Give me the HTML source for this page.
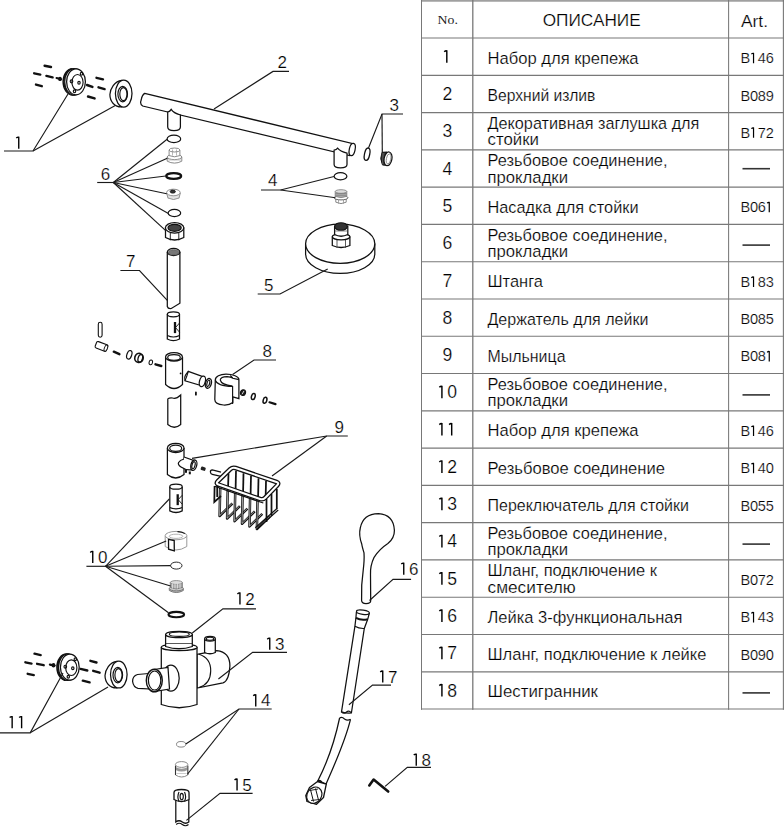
<!DOCTYPE html>
<html><head><meta charset="utf-8"><style>
html,body{margin:0;padding:0;background:#fff;}
body{width:784px;height:827px;overflow:hidden;position:relative;font-family:"Liberation Sans",sans-serif;}
svg{position:absolute;left:0;top:0;}
svg text{font-family:"Liberation Sans",sans-serif;fill:#000;stroke:#fff;stroke-width:0.22px;paint-order:fill;}
svg text.serif{font-family:"Liberation Serif",serif;stroke:none;fill:#222;}
svg text.lab{fill:#000;}
</style></head><body>
<svg width="784" height="827" viewBox="0 0 784 827">
<g id="table">
<line x1="421" y1="0.9" x2="784" y2="0.9" stroke="#a0a0a0" stroke-width="1.8"/>
<line x1="421" y1="38.0" x2="784" y2="38.0" stroke="#787878" stroke-width="1.15"/>
<line x1="421" y1="75.3" x2="784" y2="75.3" stroke="#787878" stroke-width="1.15"/>
<line x1="421" y1="112.6" x2="784" y2="112.6" stroke="#787878" stroke-width="1.15"/>
<line x1="421" y1="149.8" x2="784" y2="149.8" stroke="#787878" stroke-width="1.15"/>
<line x1="421" y1="187.1" x2="784" y2="187.1" stroke="#787878" stroke-width="1.15"/>
<line x1="421" y1="224.4" x2="784" y2="224.4" stroke="#787878" stroke-width="1.15"/>
<line x1="421" y1="261.7" x2="784" y2="261.7" stroke="#787878" stroke-width="1.15"/>
<line x1="421" y1="299.0" x2="784" y2="299.0" stroke="#787878" stroke-width="1.15"/>
<line x1="421" y1="336.2" x2="784" y2="336.2" stroke="#787878" stroke-width="1.15"/>
<line x1="421" y1="373.5" x2="784" y2="373.5" stroke="#787878" stroke-width="1.15"/>
<line x1="421" y1="410.8" x2="784" y2="410.8" stroke="#787878" stroke-width="1.15"/>
<line x1="421" y1="448.1" x2="784" y2="448.1" stroke="#787878" stroke-width="1.15"/>
<line x1="421" y1="485.4" x2="784" y2="485.4" stroke="#787878" stroke-width="1.15"/>
<line x1="421" y1="522.6" x2="784" y2="522.6" stroke="#787878" stroke-width="1.15"/>
<line x1="421" y1="559.9" x2="784" y2="559.9" stroke="#787878" stroke-width="1.15"/>
<line x1="421" y1="597.2" x2="784" y2="597.2" stroke="#787878" stroke-width="1.15"/>
<line x1="421" y1="634.5" x2="784" y2="634.5" stroke="#787878" stroke-width="1.15"/>
<line x1="421" y1="671.8" x2="784" y2="671.8" stroke="#787878" stroke-width="1.15"/>
<line x1="421" y1="709.0" x2="784" y2="709.0" stroke="#787878" stroke-width="1.15"/>
<line x1="421.5" y1="0" x2="421.5" y2="709.8" stroke="#787878" stroke-width="1.0"/>
<line x1="472.8" y1="0" x2="472.8" y2="709.8" stroke="#787878" stroke-width="1.3"/>
<line x1="728.6" y1="0" x2="728.6" y2="709.8" stroke="#787878" stroke-width="1.05"/>
<line x1="783.4" y1="0" x2="783.4" y2="709.8" stroke="#787878" stroke-width="1.1"/>
<text class="serif" x="437.6" y="24.2" font-size="13.2" textLength="20.3" lengthAdjust="spacingAndGlyphs">No.</text>
<text x="542.7" y="26.1" font-size="16.8" textLength="98" lengthAdjust="spacingAndGlyphs">ОПИСАНИЕ</text>
<text x="741" y="26.7" font-size="17" textLength="27" lengthAdjust="spacingAndGlyphs">Art.</text>
<path d="M444.22,51.83 Q445.57,50.48 446.81,50.83 L446.81,62.80" stroke="#000" stroke-width="1.44" fill="none" stroke-linecap="butt"/>
<text x="487.5" y="63.6" font-size="16.6" textLength="151.0" lengthAdjust="spacingAndGlyphs">Набор для крепежа</text>
<text x="740.5" y="63.2" font-size="14.6">B</text>
<path d="M751.39,54.10 Q752.51,52.98 753.54,53.33 L753.54,63.20" stroke="#000" stroke-width="1.20" fill="none" stroke-linecap="butt"/>
<text x="757.86" y="63.2" font-size="14.6">4</text>
<text x="765.72" y="63.2" font-size="14.6">6</text>
<text x="442.41" y="100.1" font-size="17.6">2</text>
<text x="487.5" y="100.9" font-size="16.6" textLength="107.9" lengthAdjust="spacingAndGlyphs">Верхний излив</text>
<text x="740.5" y="100.5" font-size="14.6">B</text>
<text x="750.00" y="100.5" font-size="14.6">0</text>
<text x="757.86" y="100.5" font-size="14.6">8</text>
<text x="765.72" y="100.5" font-size="14.6">9</text>
<text x="442.41" y="137.4" font-size="17.6">3</text>
<text x="487.5" y="128.8" font-size="16.6" textLength="211.9" lengthAdjust="spacingAndGlyphs">Декоративная заглушка для</text>
<text x="487.5" y="145.4" font-size="16.6" textLength="51.5" lengthAdjust="spacingAndGlyphs">стойки</text>
<text x="740.5" y="137.8" font-size="14.6">B</text>
<path d="M751.39,128.70 Q752.51,127.58 753.54,127.93 L753.54,137.80" stroke="#000" stroke-width="1.20" fill="none" stroke-linecap="butt"/>
<text x="757.86" y="137.8" font-size="14.6">7</text>
<text x="765.72" y="137.8" font-size="14.6">2</text>
<text x="442.41" y="174.6" font-size="17.6">4</text>
<text x="487.5" y="166.0" font-size="16.6" textLength="180.0" lengthAdjust="spacingAndGlyphs">Резьбовое соединение,</text>
<text x="487.5" y="182.6" font-size="16.6" textLength="80.5" lengthAdjust="spacingAndGlyphs">прокладки</text>
<line x1="742.5" y1="168.7" x2="770" y2="168.7" stroke="#333" stroke-width="1.6"/>
<text x="442.41" y="211.9" font-size="17.6">5</text>
<text x="487.5" y="212.7" font-size="16.6" textLength="151.0" lengthAdjust="spacingAndGlyphs">Насадка для стойки</text>
<text x="740.5" y="212.3" font-size="14.6">B</text>
<text x="750.00" y="212.3" font-size="14.6">0</text>
<text x="757.86" y="212.3" font-size="14.6">6</text>
<path d="M767.11,203.20 Q768.23,202.08 769.26,202.43 L769.26,212.30" stroke="#000" stroke-width="1.20" fill="none" stroke-linecap="butt"/>
<text x="442.41" y="249.2" font-size="17.6">6</text>
<text x="487.5" y="240.6" font-size="16.6" textLength="180.0" lengthAdjust="spacingAndGlyphs">Резьбовое соединение,</text>
<text x="487.5" y="257.2" font-size="16.6" textLength="80.5" lengthAdjust="spacingAndGlyphs">прокладки</text>
<line x1="742.5" y1="245.1" x2="770" y2="245.1" stroke="#333" stroke-width="1.6"/>
<text x="442.41" y="286.5" font-size="17.6">7</text>
<text x="487.5" y="287.3" font-size="16.6" textLength="55.5" lengthAdjust="spacingAndGlyphs">Штанга</text>
<text x="740.5" y="286.9" font-size="14.6">B</text>
<path d="M751.39,277.80 Q752.51,276.68 753.54,277.03 L753.54,286.90" stroke="#000" stroke-width="1.20" fill="none" stroke-linecap="butt"/>
<text x="757.86" y="286.9" font-size="14.6">8</text>
<text x="765.72" y="286.9" font-size="14.6">3</text>
<text x="442.41" y="323.8" font-size="17.6">8</text>
<text x="487.5" y="324.6" font-size="16.6" textLength="160.9" lengthAdjust="spacingAndGlyphs">Держатель для лейки</text>
<text x="740.5" y="324.2" font-size="14.6">B</text>
<text x="750.00" y="324.2" font-size="14.6">0</text>
<text x="757.86" y="324.2" font-size="14.6">8</text>
<text x="765.72" y="324.2" font-size="14.6">5</text>
<text x="442.41" y="361.0" font-size="17.6">9</text>
<text x="487.5" y="361.8" font-size="16.6" textLength="78.0" lengthAdjust="spacingAndGlyphs">Мыльница</text>
<text x="740.5" y="361.4" font-size="14.6">B</text>
<text x="750.00" y="361.4" font-size="14.6">0</text>
<text x="757.86" y="361.4" font-size="14.6">8</text>
<path d="M767.11,352.30 Q768.23,351.18 769.26,351.53 L769.26,361.40" stroke="#000" stroke-width="1.20" fill="none" stroke-linecap="butt"/>
<path d="M439.33,387.33 Q440.68,385.98 441.92,386.33 L441.92,398.30" stroke="#000" stroke-width="1.44" fill="none" stroke-linecap="butt"/>
<text x="447.30" y="398.3" font-size="17.6">0</text>
<text x="487.5" y="389.7" font-size="16.6" textLength="180.0" lengthAdjust="spacingAndGlyphs">Резьбовое соединение,</text>
<text x="487.5" y="406.3" font-size="16.6" textLength="80.5" lengthAdjust="spacingAndGlyphs">прокладки</text>
<line x1="742.5" y1="394.9" x2="770" y2="394.9" stroke="#333" stroke-width="1.6"/>
<path d="M439.33,424.63 Q440.68,423.28 441.92,423.63 L441.92,435.60" stroke="#000" stroke-width="1.44" fill="none" stroke-linecap="butt"/>
<path d="M449.12,424.63 Q450.46,423.28 451.70,423.63 L451.70,435.60" stroke="#000" stroke-width="1.44" fill="none" stroke-linecap="butt"/>
<text x="487.5" y="436.4" font-size="16.6" textLength="151.0" lengthAdjust="spacingAndGlyphs">Набор для крепежа</text>
<text x="740.5" y="436.0" font-size="14.6">B</text>
<path d="M751.39,426.90 Q752.51,425.78 753.54,426.13 L753.54,436.00" stroke="#000" stroke-width="1.20" fill="none" stroke-linecap="butt"/>
<text x="757.86" y="436.0" font-size="14.6">4</text>
<text x="765.72" y="436.0" font-size="14.6">6</text>
<path d="M439.33,461.93 Q440.68,460.58 441.92,460.93 L441.92,472.90" stroke="#000" stroke-width="1.44" fill="none" stroke-linecap="butt"/>
<text x="447.30" y="472.9" font-size="17.6">2</text>
<text x="487.5" y="473.7" font-size="16.6" textLength="177.5" lengthAdjust="spacingAndGlyphs">Резьбовое соединение</text>
<text x="740.5" y="473.3" font-size="14.6">B</text>
<path d="M751.39,464.20 Q752.51,463.08 753.54,463.43 L753.54,473.30" stroke="#000" stroke-width="1.20" fill="none" stroke-linecap="butt"/>
<text x="757.86" y="473.3" font-size="14.6">4</text>
<text x="765.72" y="473.3" font-size="14.6">0</text>
<path d="M439.33,499.23 Q440.68,497.88 441.92,498.23 L441.92,510.20" stroke="#000" stroke-width="1.44" fill="none" stroke-linecap="butt"/>
<text x="447.30" y="510.2" font-size="17.6">3</text>
<text x="487.5" y="511.0" font-size="16.6" textLength="201.4" lengthAdjust="spacingAndGlyphs">Переключатель для стойки</text>
<text x="740.5" y="510.6" font-size="14.6">B</text>
<text x="750.00" y="510.6" font-size="14.6">0</text>
<text x="757.86" y="510.6" font-size="14.6">5</text>
<text x="765.72" y="510.6" font-size="14.6">5</text>
<path d="M439.33,536.43 Q440.68,535.08 441.92,535.43 L441.92,547.40" stroke="#000" stroke-width="1.44" fill="none" stroke-linecap="butt"/>
<text x="447.30" y="547.4" font-size="17.6">4</text>
<text x="487.5" y="538.8" font-size="16.6" textLength="180.0" lengthAdjust="spacingAndGlyphs">Резьбовое соединение,</text>
<text x="487.5" y="555.4" font-size="16.6" textLength="80.5" lengthAdjust="spacingAndGlyphs">прокладки</text>
<line x1="742.5" y1="544.1" x2="770" y2="544.1" stroke="#333" stroke-width="1.6"/>
<path d="M439.33,573.73 Q440.68,572.38 441.92,572.73 L441.92,584.70" stroke="#000" stroke-width="1.44" fill="none" stroke-linecap="butt"/>
<text x="447.30" y="584.7" font-size="17.6">5</text>
<text x="487.5" y="576.1" font-size="16.6" textLength="169.5" lengthAdjust="spacingAndGlyphs">Шланг, подключение к</text>
<text x="487.5" y="592.7" font-size="16.6" textLength="88.2" lengthAdjust="spacingAndGlyphs">смесителю</text>
<text x="740.5" y="585.1" font-size="14.6">B</text>
<text x="750.00" y="585.1" font-size="14.6">0</text>
<text x="757.86" y="585.1" font-size="14.6">7</text>
<text x="765.72" y="585.1" font-size="14.6">2</text>
<path d="M439.33,611.03 Q440.68,609.68 441.92,610.03 L441.92,622.00" stroke="#000" stroke-width="1.44" fill="none" stroke-linecap="butt"/>
<text x="447.30" y="622.0" font-size="17.6">6</text>
<text x="487.5" y="622.8" font-size="16.6" textLength="195.0" lengthAdjust="spacingAndGlyphs">Лейка 3-функциональная</text>
<text x="740.5" y="622.4" font-size="14.6">B</text>
<path d="M751.39,613.30 Q752.51,612.18 753.54,612.53 L753.54,622.40" stroke="#000" stroke-width="1.20" fill="none" stroke-linecap="butt"/>
<text x="757.86" y="622.4" font-size="14.6">4</text>
<text x="765.72" y="622.4" font-size="14.6">3</text>
<path d="M439.33,648.33 Q440.68,646.98 441.92,647.33 L441.92,659.30" stroke="#000" stroke-width="1.44" fill="none" stroke-linecap="butt"/>
<text x="447.30" y="659.3" font-size="17.6">7</text>
<text x="487.5" y="660.1" font-size="16.6" textLength="218.9" lengthAdjust="spacingAndGlyphs">Шланг, подключение к лейке</text>
<text x="740.5" y="659.7" font-size="14.6">B</text>
<text x="750.00" y="659.7" font-size="14.6">0</text>
<text x="757.86" y="659.7" font-size="14.6">9</text>
<text x="765.72" y="659.7" font-size="14.6">0</text>
<path d="M439.33,685.63 Q440.68,684.28 441.92,684.63 L441.92,696.60" stroke="#000" stroke-width="1.44" fill="none" stroke-linecap="butt"/>
<text x="447.30" y="696.6" font-size="17.6">8</text>
<text x="487.5" y="697.4" font-size="16.6" textLength="110.5" lengthAdjust="spacingAndGlyphs">Шестигранник</text>
<line x1="742.5" y1="692.9" x2="770" y2="692.9" stroke="#333" stroke-width="1.6"/>
</g>
<g id="diagram">
<line x1="44.6" y1="65.8" x2="51" y2="67" stroke="#111" stroke-width="2.4" stroke-linecap="round"/>
<line x1="34.2" y1="73.3" x2="40.3" y2="74.6" stroke="#111" stroke-width="2.4" stroke-linecap="round"/>
<line x1="46.4" y1="75.9" x2="52.6" y2="77.4" stroke="#111" stroke-width="2.4" stroke-linecap="round"/>
<line x1="36" y1="84.6" x2="41.8" y2="86.2" stroke="#111" stroke-width="2.4" stroke-linecap="round"/>
<line x1="96.5" y1="77.8" x2="103" y2="79.3" stroke="#111" stroke-width="2.4" stroke-linecap="round"/>
<line x1="87" y1="85" x2="92.4" y2="86.9" stroke="#111" stroke-width="2.4" stroke-linecap="round"/>
<line x1="98.5" y1="87.3" x2="104.6" y2="89.1" stroke="#111" stroke-width="2.4" stroke-linecap="round"/>
<line x1="88" y1="96.5" x2="94.6" y2="98.4" stroke="#111" stroke-width="2.4" stroke-linecap="round"/>
<line x1="56.6" y1="78" x2="61" y2="79.2" stroke="#111" stroke-width="2.2" stroke-linecap="round"/>
<ellipse cx="60" cy="78.9" rx="1.8" ry="2.2" fill="#111"/>
<ellipse cx="72.7" cy="81.8" rx="9.6" ry="13.2" stroke="#111" stroke-width="1.4" fill="#fff"/>
<ellipse cx="73.5" cy="81.8" rx="9.6" ry="13.2" stroke="#111" stroke-width="1.2" fill="#fff"/>
<ellipse cx="74.3" cy="81.8" rx="9.6" ry="13.2" stroke="#111" stroke-width="1.2" fill="#fff"/>
<ellipse cx="76.0" cy="81.8" rx="9.4" ry="13" stroke="#111" stroke-width="1.25" fill="#fff"/>
<ellipse cx="77.5" cy="82.3" rx="5.6" ry="7.8" stroke="#111" stroke-width="1.15" fill="none"/>
<ellipse cx="79.0" cy="82.8" rx="1.2" ry="1.4" stroke="#111" stroke-width="1.15" fill="none"/>
<ellipse cx="71.5" cy="81.3" rx="1.3" ry="1.5" stroke="#111" stroke-width="1.15" fill="none"/>
<ellipse cx="81.5" cy="73.8" rx="1.2" ry="1.4" stroke="#111" stroke-width="1.15" fill="none"/>
<ellipse cx="74.5" cy="91.3" rx="1.2" ry="1.4" stroke="#111" stroke-width="1.15" fill="none"/>
<path d="M121.7,80.3 C114.7,80.6 109.9,89.6 109.9,94.6 C109.9,101.6 114.7,107.1 121.7,106.89999999999999 Z" stroke="#111" stroke-width="1.25" fill="#fff"/>
<ellipse cx="123.7" cy="93.6" rx="8.3" ry="13.4" stroke="#111" stroke-width="1.25" fill="#fff"/>
<ellipse cx="122.7" cy="94.1" rx="4.8" ry="7.7" stroke="#111" stroke-width="1.15" fill="none"/>
<ellipse cx="123.4" cy="94.1" rx="3.6" ry="6.5" stroke="#111" stroke-width="1.15" fill="none"/>
<path d="M16.25,138.10 Q17.55,136.80 18.75,137.15 L18.75,148.70" stroke="#000" stroke-width="1.39" fill="none" stroke-linecap="butt"/>
<polyline points="4,151 33,151 68,94" stroke="#1a1a1a" stroke-width="1.15" fill="none"/>
<line x1="33" y1="151" x2="115.3" y2="105.5" stroke="#1a1a1a" stroke-width="1.15" fill="none"/>
<path d="M144.7,93.4 L352,143.4 L349.5,155.6 L142.7,106 Q139.5,104 141.2,100 Q142,95 144.7,93.4 Z" stroke="#111" stroke-width="1.25" fill="#fff"/>
<ellipse cx="352.2" cy="149.5" rx="2.9" ry="6.2" stroke="#111" stroke-width="1.25" fill="#fff" transform="rotate(12 352.2 149.5)"/>
<path d="M167.7,112.2 Q170,111.6 171.2,109.4 Q173.5,113.2 180.4,115 L180.4,127 Q180.4,130.6 174,130.6 Q167.7,130.6 167.7,127 Z" stroke="#111" stroke-width="1.25" fill="#fff"/>
<path d="M334.1,150.2 Q336.5,149.8 337.6,148.2 Q340,151.4 347,153.2 L347,164.5 Q347,167.8 340.5,167.8 Q334.1,167.8 334.1,164.5 Z" stroke="#111" stroke-width="1.25" fill="#fff"/>
<text class="lab" x="277.50" y="68" font-size="17">2</text>
<polyline points="289,71.4 273,71.4 214,109" stroke="#1a1a1a" stroke-width="1.15" fill="none"/>
<ellipse cx="367.1" cy="154.2" rx="2.6" ry="6.3" stroke="#111" stroke-width="1.3" fill="#fff" transform="rotate(12 367.1 154.2)"/>
<path d="M382,152.3 L387,152 L389,165.6 L382.5,165 Q379.3,158.5 382,152.3 Z" stroke="#111" stroke-width="1" fill="#222"/>
<line x1="382.2" y1="153" x2="382.6" y2="164.5" stroke="#888" stroke-width="0.5"/>
<line x1="383.59999999999997" y1="153" x2="384.0" y2="164.5" stroke="#888" stroke-width="0.5"/>
<line x1="385.0" y1="153" x2="385.40000000000003" y2="164.5" stroke="#888" stroke-width="0.5"/>
<ellipse cx="388" cy="158.8" rx="3.9" ry="6.9" stroke="#111" stroke-width="1.25" fill="#fff" transform="rotate(10 388 158.8)"/>
<ellipse cx="388.6" cy="158.9" rx="2.2" ry="5.0" stroke="#666" stroke-width="0.7" fill="none" transform="rotate(10 388.6 158.9)"/>
<text class="lab" x="389.50" y="111" font-size="17">3</text>
<polyline points="403,114 382,114 368.5,148" stroke="#1a1a1a" stroke-width="1.15" fill="none"/>
<line x1="382" y1="114" x2="382.3" y2="152.5" stroke="#1a1a1a" stroke-width="1.15" fill="none"/>
<ellipse cx="340.5" cy="176.2" rx="6.4" ry="3.6" stroke="#111" stroke-width="1.2" fill="#fff"/>
<path d="M335.8,199 L335.8,202.2 Q341,205 346.2,202.2 L346.2,199" stroke="#888" stroke-width="1" fill="#fff"/>
<line x1="338.5" y1="199.5" x2="338.5" y2="203.8" stroke="#999" stroke-width="0.8"/>
<line x1="343.5" y1="199.5" x2="343.5" y2="203.8" stroke="#999" stroke-width="0.8"/>
<ellipse cx="341" cy="197.8" rx="7" ry="2.1" stroke="#666" stroke-width="1" fill="#fff"/>
<path d="M335.2,191.5 L335.2,196.3 Q341,199 346.8,196.3 L346.8,191.5 Z" stroke="#888" stroke-width="0.9" fill="#a8a8a8"/>
<ellipse cx="341" cy="191.5" rx="5.8" ry="1.8" stroke="#888" stroke-width="0.9" fill="#ddd"/>
<line x1="335.5" y1="193.5" x2="346.5" y2="193.5" stroke="#777" stroke-width="0.6"/>
<line x1="335.5" y1="195.3" x2="346.5" y2="195.3" stroke="#777" stroke-width="0.6"/>
<text class="lab" x="268.00" y="186" font-size="17">4</text>
<polyline points="261,190 280.6,190 334,176.5" stroke="#1a1a1a" stroke-width="1.15" fill="none"/>
<line x1="280.6" y1="190" x2="335.5" y2="197.8" stroke="#1a1a1a" stroke-width="1.15" fill="none"/>
<path d="M305.6,243.5 L305.6,254 A34.6,19.5 0 0 0 374.8,254 L374.8,243.5" stroke="#111" stroke-width="1.25" fill="#fff"/>
<ellipse cx="340.2" cy="243.8" rx="34.6" ry="19.6" stroke="#111" stroke-width="1.25" fill="#fff"/>
<path d="M332.3,237 L332.3,245.5 Q341,249.5 349.9,245.5 L349.9,237 Z" stroke="#111" stroke-width="1.25" fill="#fff"/>
<line x1="337" y1="239.5" x2="337" y2="247.8" stroke="#333" stroke-width="0.8"/>
<line x1="345.5" y1="239.5" x2="345.5" y2="247.8" stroke="#333" stroke-width="0.8"/>
<ellipse cx="341.1" cy="236.8" rx="8.8" ry="3" stroke="#111" stroke-width="1.25" fill="#fff"/>
<path d="M334.6,226 L334.6,234.5 Q341,238 347.8,234.5 L347.8,226 Z" stroke="#111" stroke-width="1.25" fill="#fff"/>
<ellipse cx="341" cy="226.5" rx="6.3" ry="3.8" stroke="#111" stroke-width="1.1" fill="#333"/>
<line x1="334.8" y1="231" x2="347.6" y2="231" stroke="#555" stroke-width="0.7"/>
<text class="lab" x="264.00" y="291.4" font-size="17">5</text>
<polyline points="257.7,294 280,294 327.7,269.1" stroke="#1a1a1a" stroke-width="1.15" fill="none"/>
<ellipse cx="173.9" cy="138.9" rx="6.8" ry="3.7" stroke="#111" stroke-width="1.2" fill="#fff"/>
<path d="M167.2,157 L167.2,161.2 Q174.5,165 181.8,161.2 L181.8,157" stroke="#8a8a8a" stroke-width="1" fill="#fff"/>
<ellipse cx="174.5" cy="157" rx="7.3" ry="2.6" stroke="#8a8a8a" stroke-width="1" fill="#fff"/>
<path d="M169.1,150 L169.1,155.6 Q174.5,158 179.9,155.6 L179.9,150" stroke="#8a8a8a" stroke-width="1" fill="#fff"/>
<ellipse cx="174.5" cy="150" rx="5.4" ry="2.0" stroke="#8a8a8a" stroke-width="1" fill="#fff"/>
<line x1="172.5" y1="149.5" x2="172.5" y2="155.5" stroke="#999" stroke-width="0.7"/>
<line x1="176.5" y1="149.5" x2="176.5" y2="155.5" stroke="#999" stroke-width="0.7"/>
<line x1="167.5" y1="160" x2="181.5" y2="160" stroke="#aaa" stroke-width="0.7"/>
<ellipse cx="173.7" cy="176" rx="7.4" ry="2.9" stroke="#111" stroke-width="2.4" fill="#fff"/>
<path d="M166.6,193 L168,198 Q173.5,201 179,198 L180.3,193" stroke="#8a8a8a" stroke-width="1" fill="#fff"/>
<ellipse cx="173.4" cy="192.5" rx="6.8" ry="3.3" stroke="#8a8a8a" stroke-width="1" fill="#fff"/>
<ellipse cx="172.8" cy="191.6" rx="2.6" ry="1.5" stroke="#111" stroke-width="0.9" fill="#333"/>
<line x1="167.5" y1="196" x2="179.5" y2="196" stroke="#b0b0b0" stroke-width="0.7"/>
<line x1="167.5" y1="198" x2="179.5" y2="198" stroke="#b0b0b0" stroke-width="0.7"/>
<ellipse cx="174.4" cy="213" rx="6.3" ry="3.6" stroke="#111" stroke-width="1.2" fill="#fff"/>
<path d="M165.5,228 L165.5,237.5 Q174.6,242.5 183.8,237.5 L183.8,228 Z" stroke="#111" stroke-width="1.25" fill="#fff"/>
<line x1="170.3" y1="231" x2="170.3" y2="240.3" stroke="#111" stroke-width="0.9"/>
<line x1="178.8" y1="231" x2="178.8" y2="240.3" stroke="#111" stroke-width="0.9"/>
<ellipse cx="174.6" cy="227.8" rx="9.2" ry="5.2" stroke="#111" stroke-width="1.25" fill="#fff"/>
<ellipse cx="174.6" cy="227.8" rx="6.6" ry="3.5" stroke="#111" stroke-width="1.2" fill="#444"/>
<text class="lab" x="100.80" y="179.7" font-size="17">6</text>
<line x1="97.2" y1="182.5" x2="113.3" y2="182.5" stroke="#1a1a1a" stroke-width="1.15" fill="none"/>
<line x1="113.3" y1="182.5" x2="167.1" y2="139.2" stroke="#1a1a1a" stroke-width="1.15" fill="none"/>
<line x1="113.3" y1="182.5" x2="167.3" y2="158.3" stroke="#1a1a1a" stroke-width="1.15" fill="none"/>
<line x1="113.3" y1="182.5" x2="165.8" y2="176" stroke="#1a1a1a" stroke-width="1.15" fill="none"/>
<line x1="113.3" y1="182.5" x2="166.7" y2="193.8" stroke="#1a1a1a" stroke-width="1.15" fill="none"/>
<line x1="113.3" y1="182.5" x2="168.4" y2="213.4" stroke="#1a1a1a" stroke-width="1.15" fill="none"/>
<line x1="113.3" y1="182.5" x2="166" y2="230.8" stroke="#1a1a1a" stroke-width="1.15" fill="none"/>
<path d="M167.3,252 L167.3,306.5 Q168,309 171.3,308.5 L179.9,303.2 L179.9,252" stroke="#111" stroke-width="1.25" fill="#fff"/>
<ellipse cx="173.6" cy="252" rx="6.3" ry="3.6" stroke="#111" stroke-width="1.25" fill="#fff"/>
<ellipse cx="173.6" cy="252.3" rx="5" ry="2.6" stroke="#555" stroke-width="0.8" fill="#777"/>
<text class="lab" x="126.00" y="267" font-size="17">7</text>
<polyline points="120.4,270.5 139.5,270.5 167.3,300.4" stroke="#1a1a1a" stroke-width="1.15" fill="none"/>
<path d="M167.3,314.3 L167.3,339 Q173.4,342.2 179.5,339 L179.5,314.3" stroke="#111" stroke-width="1.25" fill="#fff"/>
<ellipse cx="173.4" cy="314.3" rx="6.099999999999994" ry="2.5" stroke="#111" stroke-width="1.25" fill="#fff"/>
<path d="M167.3,335.5 Q173.4,338.5 179.5,335.5" stroke="#111" stroke-width="1.15" fill="none"/>
<line x1="175.0" y1="322.02" x2="175.0" y2="333.116" stroke="#111" stroke-width="2.3"/>
<polyline points="179.5,323.02 175.5,327.568 179.5,332.116" stroke="#111" stroke-width="0.9" fill="none"/>
<rect x="98.3" y="322.3" width="3.8" height="14.9" rx="1.9" stroke="#111" stroke-width="1.1" fill="#fff"/>
<g transform="rotate(21 101.5 346.4)"><rect x="95.5" y="343" width="12" height="6.8" rx="1.5" stroke="#111" stroke-width="1.1" fill="#fff"/><ellipse cx="106.2" cy="346.4" rx="1.5" ry="3.3" stroke="#111" stroke-width="0.9" fill="#fff"/></g>
<line x1="113.8" y1="351.7" x2="119.4" y2="354.2" stroke="#111" stroke-width="2.4" stroke-linecap="round"/>
<ellipse cx="129.3" cy="354.8" rx="2.4" ry="4.4" stroke="#111" stroke-width="1.2" fill="#fff" transform="rotate(18 129.3 354.8)"/>
<ellipse cx="139" cy="357.9" rx="4.2" ry="4.6" stroke="#111" stroke-width="1.6" fill="#fff" transform="rotate(15 139 357.9)"/>
<ellipse cx="140.3" cy="358.3" rx="2.2" ry="3.8" stroke="#111" stroke-width="1.3" fill="none" transform="rotate(15 140.3 358.3)"/>
<ellipse cx="150.8" cy="362.4" rx="1.7" ry="2.4" stroke="#111" stroke-width="1" fill="#fff" transform="rotate(15 150.8 362.4)"/>
<line x1="155.5" y1="364.3" x2="161.3" y2="366" stroke="#111" stroke-width="2.4" stroke-linecap="round"/>
<path d="M165.6,357 L165.6,384.5 Q174,392.5 182.5,384.5 L182.5,357" stroke="#111" stroke-width="1.25" fill="#fff"/>
<ellipse cx="174" cy="356.9" rx="8.45" ry="4.2" stroke="#111" stroke-width="1.25" fill="#fff"/>
<ellipse cx="174" cy="357.4" rx="6.3" ry="2.8" stroke="#111" stroke-width="1.15" fill="none"/>
<circle cx="180.6" cy="373.4" r="0.9" fill="#111"/>
<path d="M188.3,371.3 L203.6,377 L201,385.5 L185,380.8 Q184,377 185.5,375 Q187,373 188.3,371.3 Z" stroke="#111" stroke-width="1.25" fill="#fff"/>
<path d="M185,380.8 Q187,376 188.3,371.3" stroke="#111" stroke-width="1.15" fill="none"/>
<ellipse cx="202.4" cy="381.4" rx="2.9" ry="5.4" stroke="#111" stroke-width="1.3" fill="#fff" transform="rotate(15 202.4 381.4)"/>
<ellipse cx="208.4" cy="383.4" rx="2.9" ry="5" stroke="#111" stroke-width="1.4" fill="#fff" transform="rotate(15 208.4 383.4)"/>
<ellipse cx="208.3" cy="383.4" rx="1.3" ry="3.2" stroke="#111" stroke-width="1.15" fill="none" transform="rotate(15 208.3 383.4)"/>
<rect x="195" y="391.6" width="1.8" height="4" rx="0.9" fill="#111"/>
<path d="M215.3,380 C215.3,376.5 220,374.2 226,374.2 C233,374.2 238.9,376.5 238.9,379.4 L238.9,398.6 L232.8,396.9 L232.8,402.5 C230,404.8 227,405.2 223.5,405 C218.5,404.6 214.8,402.5 214.8,399.5 Z" stroke="#111" stroke-width="1.25" fill="#fff"/>
<path d="M220.2,380 C220.5,377.8 224,376.6 227,376.6 C229.5,376.7 231.5,377.2 232.6,378" stroke="#111" stroke-width="1.15" fill="none"/>
<path d="M220.2,380 C221,383.2 226,385.3 232.4,386" stroke="#111" stroke-width="1.15" fill="none"/>
<path d="M215.3,380.2 C216.5,383.8 223,386.2 232.5,386.4" stroke="#111" stroke-width="1.15" fill="none"/>
<line x1="232.6" y1="386" x2="232.6" y2="404" stroke="#111" stroke-width="1.15" fill="none"/>
<path d="M230.3,375.5 L232.8,378.2 L238.9,379.6" stroke="#111" stroke-width="1.15" fill="none"/>
<ellipse cx="243" cy="392.6" rx="2.5" ry="2.8" stroke="#111" stroke-width="1.2" fill="#222" transform="rotate(15 243 392.6)"/>
<line x1="242" y1="394.3" x2="244" y2="390.9" stroke="#fff" stroke-width="0.8"/>
<ellipse cx="253.3" cy="396.5" rx="1.8" ry="3.1" stroke="#111" stroke-width="1.5" fill="#fff" transform="rotate(15 253.3 396.5)"/>
<ellipse cx="265" cy="400.3" rx="1.8" ry="3.1" stroke="#111" stroke-width="1.5" fill="#fff" transform="rotate(15 265 400.3)"/>
<line x1="269.5" y1="402.3" x2="275.5" y2="404.1" stroke="#111" stroke-width="2.2" stroke-linecap="round"/>
<text class="lab" x="262.50" y="356.5" font-size="17">8</text>
<polyline points="276,360 254,360 232.6,374.5" stroke="#1a1a1a" stroke-width="1.15" fill="none"/>
<path d="M167.8,398.8 L167.8,424.5 Q174.3,430 180.7,424.5 L180.7,395 Q176,399.5 172.5,398 Q170,397.5 167.8,398.8" stroke="#111" stroke-width="1.25" fill="#fff"/>
<path d="M167.4,448 L167.4,474.5 Q175.7,481.5 184,474.5 L184,448" stroke="#111" stroke-width="1.25" fill="#fff"/>
<ellipse cx="175.7" cy="447.9" rx="8.3" ry="4.6" stroke="#111" stroke-width="1.25" fill="#fff"/>
<ellipse cx="175.7" cy="448.2" rx="6" ry="3.1" stroke="#111" stroke-width="1.15" fill="none"/>
<path d="M184,457 L193.5,460.3 L191.3,469.8 Q186,470.5 181,467 Q177.5,464.5 178.6,462.5 Q180,460 184,459" stroke="#111" stroke-width="1.25" fill="#fff"/>
<ellipse cx="193.8" cy="465.2" rx="2.9" ry="5.3" stroke="#111" stroke-width="1.3" fill="#fff" transform="rotate(15 193.8 465.2)"/>
<ellipse cx="193.5" cy="465.2" rx="1.5" ry="3.6" stroke="#111" stroke-width="1.15" fill="none" transform="rotate(15 193.5 465.2)"/>
<rect x="185" y="470" width="2" height="2.8" fill="#111"/><rect x="188.8" y="471.5" width="2" height="2.8" fill="#111"/>
<rect x="200.8" y="466.8" width="4.8" height="3.6" rx="1" fill="#222" transform="rotate(18 203 468.6)"/>
<path d="M169.8,486.7 L169.8,510.9 Q176.0,514.1 182.2,510.9 L182.2,486.7" stroke="#111" stroke-width="1.25" fill="#fff"/>
<ellipse cx="176.0" cy="486.7" rx="6.199999999999989" ry="2.5" stroke="#111" stroke-width="1.25" fill="#fff"/>
<path d="M169.8,507.4 Q176.0,510.4 182.2,507.4" stroke="#111" stroke-width="1.15" fill="none"/>
<line x1="177.7" y1="494.245" x2="177.7" y2="505.15099999999995" stroke="#111" stroke-width="2.3"/>
<polyline points="182.2,495.245 178.2,499.698 182.2,504.15099999999995" stroke="#111" stroke-width="0.9" fill="none"/>
<path d="M221,472.2 L212.3,469.9 Q210.3,470 210.4,472 Q210.6,474 212.3,474.3 L221,476.4" stroke="#111" stroke-width="1.25" fill="#fff"/>
<line x1="228.5" y1="473.38" x2="228.1" y2="486.55" stroke="#111" stroke-width="1.75" fill="none"/>
<line x1="236" y1="470.69" x2="235.6" y2="489.175" stroke="#111" stroke-width="1.75" fill="none"/>
<line x1="243.5" y1="473.24" x2="243.1" y2="491.8" stroke="#111" stroke-width="1.75" fill="none"/>
<line x1="251" y1="475.79" x2="250.6" y2="494.425" stroke="#111" stroke-width="1.75" fill="none"/>
<line x1="258.5" y1="478.34" x2="258.1" y2="497.05" stroke="#111" stroke-width="1.75" fill="none"/>
<line x1="266" y1="480.89" x2="265.6" y2="499.675" stroke="#111" stroke-width="1.75" fill="none"/>
<polyline points="220.20000000000002,487.947 219.6,516.0 232.4,503.5" stroke="#111" stroke-width="2.5" fill="none" stroke-linejoin="round"/>
<polyline points="220.20000000000002,488.947 219.6,515.7 231.9,503.7" stroke="#fff" stroke-width="0.6" fill="none" stroke-linejoin="round"/>
<polyline points="227.70000000000002,490.422 227.1,518.6 239.9,506.1" stroke="#111" stroke-width="2.5" fill="none" stroke-linejoin="round"/>
<polyline points="227.70000000000002,491.422 227.1,518.3000000000001 239.4,506.3" stroke="#fff" stroke-width="0.6" fill="none" stroke-linejoin="round"/>
<polyline points="235.20000000000002,492.897 234.6,521.2 247.4,508.70000000000005" stroke="#111" stroke-width="2.5" fill="none" stroke-linejoin="round"/>
<polyline points="235.20000000000002,493.897 234.6,520.9000000000001 246.9,508.90000000000003" stroke="#fff" stroke-width="0.6" fill="none" stroke-linejoin="round"/>
<polyline points="242.60000000000002,495.339 242.0,523.8 254.8,511.29999999999995" stroke="#111" stroke-width="2.5" fill="none" stroke-linejoin="round"/>
<polyline points="242.60000000000002,496.339 242.0,523.5 254.3,511.49999999999994" stroke="#fff" stroke-width="0.6" fill="none" stroke-linejoin="round"/>
<polyline points="250.10000000000002,497.814 249.5,526.4 262.3,513.9" stroke="#111" stroke-width="2.5" fill="none" stroke-linejoin="round"/>
<polyline points="250.10000000000002,498.814 249.5,526.1 261.8,514.1" stroke="#fff" stroke-width="0.6" fill="none" stroke-linejoin="round"/>
<polyline points="257.5,500.256 256.9,529.0 269.7,516.5" stroke="#111" stroke-width="2.5" fill="none" stroke-linejoin="round"/>
<polyline points="257.5,501.256 256.9,528.7 269.2,516.7" stroke="#fff" stroke-width="0.6" fill="none" stroke-linejoin="round"/>
<polyline points="214.6,486 214.3,502 221,496" stroke="#111" stroke-width="1.75" fill="none"/>
<line x1="217.2" y1="484" x2="217.2" y2="497" stroke="#111" stroke-width="1.75" fill="none"/>
<line x1="266.5" y1="499" x2="266.5" y2="522" stroke="#111" stroke-width="1.75" fill="none"/>
<line x1="271.5" y1="494" x2="271.5" y2="516" stroke="#111" stroke-width="1.75" fill="none"/>
<line x1="276.8" y1="489" x2="276.8" y2="509" stroke="#111" stroke-width="1.75" fill="none"/>
<polyline points="255.3,527.8 277,508.5" stroke="#111" stroke-width="1.2" fill="none"/>
<polyline points="257,529 278.2,510" stroke="#111" stroke-width="1.2" fill="none"/>
<path d="M217.80,481.27 L230.20,469.23 Q232.50,467.00 235.53,468.03 L276.47,481.97 Q279.50,483.00 277.27,485.30 L265.23,497.70 Q263.00,500.00 259.98,498.95 L218.52,484.55 Q215.50,483.50 217.80,481.27 Z" stroke="#111" stroke-width="4.6" fill="none" stroke-linejoin="round"/>
<path d="M217.80,481.27 L230.20,469.23 Q232.50,467.00 235.53,468.03 L276.47,481.97 Q279.50,483.00 277.27,485.30 L265.23,497.70 Q263.00,500.00 259.98,498.95 L218.52,484.55 Q215.50,483.50 217.80,481.27 Z" stroke="#fff" stroke-width="2.0" fill="none" stroke-linejoin="round"/>
<line x1="214.6" y1="486.3" x2="263.3" y2="503" stroke="#111" stroke-width="1.2"/>
<text class="lab" x="334.50" y="433" font-size="17">9</text>
<polyline points="347.8,436 326.7,436 192,458.4" stroke="#1a1a1a" stroke-width="1.15" fill="none"/>
<line x1="326.7" y1="436" x2="272" y2="476" stroke="#1a1a1a" stroke-width="1.15" fill="none"/>
<path d="M165.2,535.8 L165.2,546.5 Q176,553.5 186.8,546.5 L186.8,535.8" stroke="#999" stroke-width="1" fill="#fff"/>
<ellipse cx="176" cy="535.6" rx="10.8" ry="4.2" stroke="#999" stroke-width="1" fill="#fff"/>
<ellipse cx="176" cy="536.3" rx="6.8" ry="2.1" stroke="#aaa" stroke-width="0.9" fill="none"/>
<path d="M177.5,531.6 Q182.5,531.9 184.8,533.6" stroke="#111" stroke-width="1.15" fill="none"/>
<path d="M168.5,539.3 L174.2,540.6 L174.3,550.8 L168.6,549.2 Z" stroke="#111" stroke-width="1.3" fill="#fff"/>
<ellipse cx="176.3" cy="565.6" rx="5.7" ry="3.5" stroke="#111" stroke-width="0.9" fill="#fff"/>
<path d="M169.3,588.5 L169.3,590.5 Q176.3,594.5 183.3,590.5 L183.3,588.5" stroke="#777" stroke-width="1" fill="#bbb"/>
<ellipse cx="176.3" cy="588.5" rx="7" ry="2.4" stroke="#777" stroke-width="1" fill="#ccc"/>
<path d="M170.3,582.5 L170.3,587.5 Q176.3,590.5 182.3,587.5 L182.3,582.5 Z" stroke="#777" stroke-width="0.9" fill="#aaa"/>
<ellipse cx="176.3" cy="582.5" rx="6" ry="1.9" stroke="#888" stroke-width="0.9" fill="#ddd"/>
<line x1="172.5" y1="583.5" x2="172.5" y2="588.5" stroke="#eee" stroke-width="0.7"/>
<line x1="175" y1="583.5" x2="175" y2="588.5" stroke="#eee" stroke-width="0.7"/>
<line x1="177.5" y1="583.5" x2="177.5" y2="588.5" stroke="#eee" stroke-width="0.7"/>
<line x1="180" y1="583.5" x2="180" y2="588.5" stroke="#eee" stroke-width="0.7"/>
<ellipse cx="176.3" cy="614.6" rx="7.8" ry="2.7" stroke="#111" stroke-width="2.1" fill="#fff"/>
<path d="M90.25,552.40 Q91.55,551.10 92.75,551.45 L92.75,563.00" stroke="#000" stroke-width="1.39" fill="none" stroke-linecap="butt"/>
<text class="lab" x="97.95" y="563" font-size="17">0</text>
<line x1="86.4" y1="566.3" x2="105.5" y2="566.3" stroke="#1a1a1a" stroke-width="1.15" fill="none"/>
<line x1="105.5" y1="566.3" x2="169.3" y2="499" stroke="#1a1a1a" stroke-width="1.15" fill="none"/>
<line x1="105.5" y1="566.3" x2="166.2" y2="541" stroke="#1a1a1a" stroke-width="1.15" fill="none"/>
<line x1="105.5" y1="566.3" x2="170.6" y2="565.6" stroke="#1a1a1a" stroke-width="1.15" fill="none"/>
<line x1="105.5" y1="566.3" x2="170.6" y2="586" stroke="#1a1a1a" stroke-width="1.15" fill="none"/>
<line x1="105.5" y1="566.3" x2="168.5" y2="612.8" stroke="#1a1a1a" stroke-width="1.15" fill="none"/>
<line x1="34.5" y1="653.7" x2="40.7" y2="655.1" stroke="#111" stroke-width="2.4" stroke-linecap="round"/>
<line x1="25.4" y1="662.3" x2="31.5" y2="663.6" stroke="#111" stroke-width="2.4" stroke-linecap="round"/>
<line x1="37.1" y1="663.8" x2="43.7" y2="665.2" stroke="#111" stroke-width="2.4" stroke-linecap="round"/>
<line x1="27.7" y1="673.8" x2="33.8" y2="675.1" stroke="#111" stroke-width="2.4" stroke-linecap="round"/>
<line x1="90.4" y1="660.8" x2="96.5" y2="662.5" stroke="#111" stroke-width="2.4" stroke-linecap="round"/>
<line x1="80.5" y1="668.9" x2="87.3" y2="670.5" stroke="#111" stroke-width="2.4" stroke-linecap="round"/>
<line x1="93.2" y1="670.8" x2="99.6" y2="672.7" stroke="#111" stroke-width="2.4" stroke-linecap="round"/>
<line x1="82.8" y1="680.7" x2="89.6" y2="682.4" stroke="#111" stroke-width="2.4" stroke-linecap="round"/>
<line x1="49.9" y1="664.6" x2="54.5" y2="665.6" stroke="#111" stroke-width="2.2" stroke-linecap="round"/>
<ellipse cx="53.5" cy="665.3000000000001" rx="1.8" ry="2.2" fill="#111"/>
<ellipse cx="66.5" cy="667.2" rx="9.6" ry="13.2" stroke="#111" stroke-width="1.4" fill="#fff"/>
<ellipse cx="67.3" cy="667.2" rx="9.6" ry="13.2" stroke="#111" stroke-width="1.2" fill="#fff"/>
<ellipse cx="68.1" cy="667.2" rx="9.6" ry="13.2" stroke="#111" stroke-width="1.2" fill="#fff"/>
<ellipse cx="69.8" cy="667.2" rx="9.4" ry="13" stroke="#111" stroke-width="1.25" fill="#fff"/>
<ellipse cx="71.3" cy="667.7" rx="5.6" ry="7.8" stroke="#111" stroke-width="1.15" fill="none"/>
<ellipse cx="72.8" cy="668.2" rx="1.2" ry="1.4" stroke="#111" stroke-width="1.15" fill="none"/>
<ellipse cx="65.3" cy="666.7" rx="1.3" ry="1.5" stroke="#111" stroke-width="1.15" fill="none"/>
<ellipse cx="75.3" cy="659.2" rx="1.2" ry="1.4" stroke="#111" stroke-width="1.15" fill="none"/>
<ellipse cx="68.3" cy="676.7" rx="1.2" ry="1.4" stroke="#111" stroke-width="1.15" fill="none"/>
<path d="M116.8,661.3000000000001 C109.8,661.6 105.0,670.6 105.0,675.6 C105.0,682.6 109.8,688.1 116.8,687.9 Z" stroke="#111" stroke-width="1.25" fill="#fff"/>
<ellipse cx="118.8" cy="674.6" rx="8.3" ry="13.4" stroke="#111" stroke-width="1.25" fill="#fff"/>
<ellipse cx="117.8" cy="675.1" rx="4.8" ry="7.7" stroke="#111" stroke-width="1.15" fill="none"/>
<ellipse cx="118.5" cy="675.1" rx="3.6" ry="6.5" stroke="#111" stroke-width="1.15" fill="none"/>
<path d="M9.65,717.60 Q10.95,716.30 12.15,716.65 L12.15,728.20" stroke="#000" stroke-width="1.39" fill="none" stroke-linecap="butt"/>
<path d="M19.11,717.60 Q20.41,716.30 21.61,716.65 L21.61,728.20" stroke="#000" stroke-width="1.39" fill="none" stroke-linecap="butt"/>
<polyline points="0,732.8 30.2,732.8 63,673" stroke="#1a1a1a" stroke-width="1.15" fill="none"/>
<line x1="30.2" y1="732.8" x2="108" y2="687" stroke="#1a1a1a" stroke-width="1.15" fill="none"/>
<path d="M197,654.4 L216.8,650.6 Q229.9,652 229.9,666 Q229,681 223,682.8 L197,688 Z" stroke="#111" stroke-width="1.25" fill="#fff"/>
<path d="M199,654.2 Q211,658 210.7,671 Q210.5,684 199,687.5" stroke="#111" stroke-width="1.15" fill="none"/>
<path d="M204.6,638.7 L204.6,652.5 Q210,655 215.3,652.5 L215.3,638.7" stroke="#111" stroke-width="1.25" fill="#fff"/>
<ellipse cx="210" cy="638.7" rx="5.35" ry="2.4" stroke="#111" stroke-width="1.25" fill="#fff"/>
<ellipse cx="210" cy="638.7" rx="3.8" ry="1.5" stroke="#111" stroke-width="1.15" fill="none"/>
<path d="M161.3,647.2 L161.3,704.5 Q179.2,711 197,704.5 L197,647.2" stroke="#111" stroke-width="1.25" fill="#fff"/>
<ellipse cx="179.2" cy="647.3" rx="17.9" ry="3.3" stroke="#111" stroke-width="1.25" fill="#fff"/>
<path d="M165.6,634.5 L165.6,646.5 Q179,651 192.3,646.5 L192.3,634.5" stroke="#111" stroke-width="1.25" fill="#fff"/>
<ellipse cx="179" cy="634.5" rx="13.4" ry="3.2" stroke="#111" stroke-width="1.25" fill="#fff"/>
<ellipse cx="179.3" cy="634.2" rx="10" ry="2.2" stroke="#111" stroke-width="1.15" fill="none"/>
<line x1="165.8" y1="643.5" x2="192.1" y2="643.5" stroke="#111" stroke-width="0.7"/>
<path d="M160,672.5 L137.5,674.5 Q132.5,676 132.6,681.5 Q133.5,687.5 138,688.3 L160,689.5" stroke="#111" stroke-width="1.25" fill="#fff"/>
<ellipse cx="170.9" cy="678.2" rx="8.3" ry="13" stroke="#111" stroke-width="1.25" fill="#fff"/>
<path d="M154,669.5 L168,667.5 L169.5,689 L154,691.5 Z" stroke="#111" stroke-width="1.25" fill="#fff"/>
<ellipse cx="154.3" cy="680.5" rx="8" ry="11.3" stroke="#111" stroke-width="1.4" fill="#fff"/>
<ellipse cx="154.6" cy="680.5" rx="6.2" ry="9.5" stroke="#111" stroke-width="1.2" fill="#fff"/>
<path d="M237.45,593.90 Q238.75,592.60 239.95,592.95 L239.95,604.50" stroke="#000" stroke-width="1.39" fill="none" stroke-linecap="butt"/>
<text class="lab" x="245.15" y="604.5" font-size="17">2</text>
<polyline points="256,608.8 222.9,608.8 192.3,633" stroke="#1a1a1a" stroke-width="1.15" fill="none"/>
<path d="M267.25,639.20 Q268.55,637.90 269.75,638.25 L269.75,649.80" stroke="#000" stroke-width="1.39" fill="none" stroke-linecap="butt"/>
<text class="lab" x="274.95" y="649.8" font-size="17">3</text>
<polyline points="287,652.4 252.6,652.4 218.4,679" stroke="#1a1a1a" stroke-width="1.15" fill="none"/>
<ellipse cx="181.1" cy="744.3" rx="4.6" ry="2.8" stroke="#777" stroke-width="0.9" fill="#fff"/>
<path d="M175.5,765 L175.5,775 Q181.6,779 187.8,775 L187.8,765" stroke="#8a8a8a" stroke-width="1" fill="#fff"/>
<ellipse cx="181.6" cy="764.5" rx="6.2" ry="2.9" stroke="#8a8a8a" stroke-width="1" fill="#fff"/>
<path d="M175.6,767 Q181.6,770.5 187.6,767 L187.6,770 Q181.6,773 175.6,770 Z" fill="#999"/>
<line x1="175.5" y1="766" x2="175.5" y2="775" stroke="#333" stroke-width="1.1"/>
<line x1="187.8" y1="766" x2="187.8" y2="775" stroke="#555" stroke-width="1"/>
<line x1="176.5" y1="773.5" x2="186.5" y2="773.5" stroke="#aaa" stroke-width="0.6"/>
<path d="M253.25,695.80 Q254.55,694.50 255.75,694.85 L255.75,706.40" stroke="#000" stroke-width="1.39" fill="none" stroke-linecap="butt"/>
<text class="lab" x="260.95" y="706.4" font-size="17">4</text>
<polyline points="271.7,709 239,709 185.8,744" stroke="#1a1a1a" stroke-width="1.15" fill="none"/>
<line x1="239" y1="709" x2="187.6" y2="774" stroke="#1a1a1a" stroke-width="1.15" fill="none"/>
<path d="M175.8,800 L175.8,822 Q179,819.5 182.3,822 Q185.5,824.5 188.8,822 L188.8,800" stroke="#111" stroke-width="1.25" fill="#fff"/>
<path d="M176.2,824.5 Q179,822 182.3,824.5 Q185.5,827 188.5,824.5" stroke="#111" stroke-width="1.15" fill="none"/>
<path d="M174,792.5 Q174,789.5 181.5,789.5 Q189,789.5 189,792.5 L189.1,799.5 Q181.5,803.5 174,799.5 Z" stroke="#111" stroke-width="1.3" fill="#fff"/>
<path d="M179,792 Q176.8,796.5 179,801.5 M184.5,792 Q186.7,796.5 184.5,801.5" stroke="#111" stroke-width="1.15" fill="none"/>
<ellipse cx="181.7" cy="796.5" rx="1.6" ry="3.2" stroke="#111" stroke-width="1.15" fill="none"/>
<path d="M234.55,780.00 Q235.85,778.70 237.05,779.05 L237.05,790.60" stroke="#000" stroke-width="1.39" fill="none" stroke-linecap="butt"/>
<text class="lab" x="242.25" y="790.6" font-size="17">5</text>
<polyline points="252.6,793.3 220,793.3 186.4,820.4" stroke="#1a1a1a" stroke-width="1.15" fill="none"/>
<path d="M361.6,600.5 Q361,585 363.2,570.3 Q364.5,560 364,552.9 Q362,546 361.8,544.2 Q358.5,535 360.3,528 Q363,514 378.5,513.7 Q393.5,514.5 394.4,530.4 Q394.5,538 387.9,543.5 Q379.5,549 374.1,557.3 Q370,566 370.5,574.7 L370.7,600.5 Q370.9,603.6 366,603.6 Q361.7,603.6 361.6,600.5 Z" stroke="#111" stroke-width="1.25" fill="#fff"/>
<path d="M401.25,564.10 Q402.55,562.80 403.75,563.15 L403.75,574.70" stroke="#000" stroke-width="1.39" fill="none" stroke-linecap="butt"/>
<text class="lab" x="408.95" y="574.7" font-size="17">6</text>
<polyline points="411.1,579.3 393,579.3 369.5,600.5" stroke="#1a1a1a" stroke-width="1.15" fill="none"/>
<path d="M356.4,612 L355.9,618 L354.9,626.3 L341.5,711.8 Q346,713.5 351.4,713 L364.3,628.5 L367.7,619.3 L369.4,613" stroke="#111" stroke-width="1.25" fill="#fff"/>
<ellipse cx="362.9" cy="612.2" rx="6.5" ry="2.1" stroke="#111" stroke-width="1.25" fill="#fff" transform="rotate(8 362.9 612.2)"/>
<path d="M355.9,617.9 Q361,620.9 367.7,619.3" stroke="#111" stroke-width="2" fill="none"/>
<path d="M354.9,626.3 Q359,628.8 364.3,628.5" stroke="#111" stroke-width="1.15" fill="none"/>
<path d="M339.6,718 C336,735 328.5,760 318,780.5 L325.9,784.4 C333,768 345,742 350.5,719.3" stroke="#111" stroke-width="1.25" fill="#fff"/>
<path d="M339.6,718 Q342,716.5 344.5,719 Q347.5,721 350.5,719.3" stroke="#111" stroke-width="1.15" fill="none"/>
<path d="M341.5,711.8 Q344,714.5 346.5,712 Q349,710 351.4,713" stroke="#111" stroke-width="1.15" fill="none"/>
<path d="M317.5,781 Q320,779.5 322,782 Q324,784.5 326.3,783.5" stroke="#111" stroke-width="1.15" fill="none"/>
<path d="M309.5,787.5 L317.5,781.5 L326.3,784 L323.5,797.5 L316.5,804.3 L307,801.5 L305.8,795.5 Z" stroke="#111" stroke-width="1.3" fill="#fff" stroke-linejoin="round"/>
<ellipse cx="314.3" cy="795.2" rx="7.2" ry="8.6" transform="rotate(35 314.3 795.2)" stroke="#111" stroke-width="1.2" fill="#fff"/>
<line x1="310.6" y1="790" x2="313.5" y2="801.5" stroke="#111" stroke-width="1"/>
<line x1="315.5" y1="788.5" x2="318.5" y2="800" stroke="#111" stroke-width="1"/>
<line x1="309.8" y1="790.5" x2="318" y2="789" stroke="#111" stroke-width="0.9"/>
<line x1="311" y1="800.5" x2="319.5" y2="799.5" stroke="#111" stroke-width="0.9"/>
<path d="M380.25,672.00 Q381.55,670.70 382.75,671.05 L382.75,682.60" stroke="#000" stroke-width="1.39" fill="none" stroke-linecap="butt"/>
<text class="lab" x="387.95" y="682.6" font-size="17">7</text>
<polyline points="391,685.1 372.5,685.1 348.9,704.7" stroke="#1a1a1a" stroke-width="1.15" fill="none"/>
<polyline points="369.3,785.5 373.6,779.6 388.2,791.5" stroke="#111" stroke-width="2.6" fill="none" stroke-linejoin="round" stroke-linecap="round"/>
<path d="M413.75,755.10 Q415.05,753.80 416.25,754.15 L416.25,765.70" stroke="#000" stroke-width="1.39" fill="none" stroke-linecap="butt"/>
<text class="lab" x="421.45" y="765.7" font-size="17">8</text>
<polyline points="431,767.3 407.3,767.3 385.1,786.4" stroke="#1a1a1a" stroke-width="1.15" fill="none"/>
</g>
</svg>
</body></html>
